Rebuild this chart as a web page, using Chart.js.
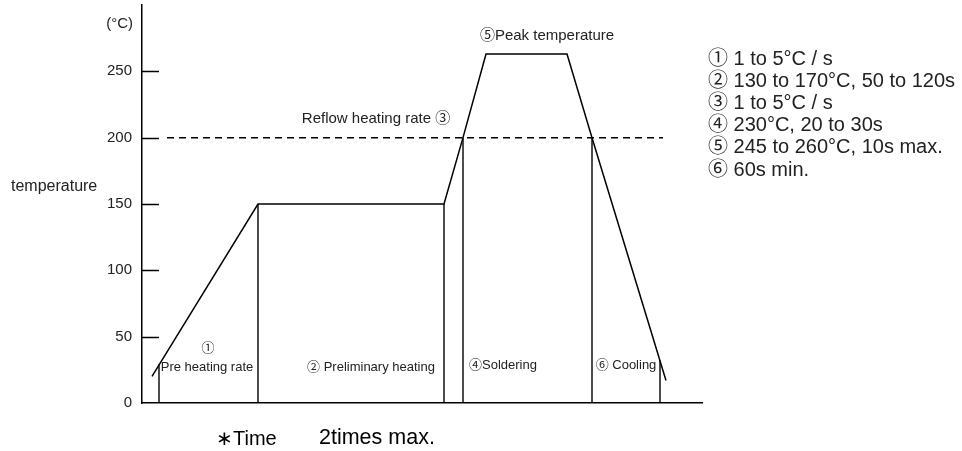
<!DOCTYPE html>
<html>
<head>
<meta charset="utf-8">
<script src="https://cdn.jsdelivr.net/npm/chart.js@4/dist/chart.umd.min.js"></script>
<style>
  html, body { margin: 0; padding: 0; background: #fff; }
  #wrap { width: 962px; height: 451px; }
</style>
</head>
<body>
<div id="wrap"><canvas id="reflowChart" width="962" height="451"></canvas></div>
<script>
var FONT = "'Liberation Sans', 'Noto Sans CJK JP', sans-serif";

// Reflow profile (time in arbitrary units, temperature in degC)
var profileTime = [10, 116, 302, 321, 344, 425, 450, 524];
var profileTemp = [20, 150, 150, 200, 263, 263, 200, 17];

// vertical zone separators: each goes from 0 up to the curve
var markerTime = [17, 116, 302, 321, 450, 518];
var markerTemp = [29, 150, 150, 200, 200, 32];

// dashed reference line at 200 degC
var refTemp = 200;
var refTime = [25, 521];

var yTicks = [0, 50, 100, 150, 200, 250];

// notes placed in data space
var zoneNotes = [
    { text: '\u2464Peak temperature', x: 405, y: 277, size: 15 },
    { text: 'Reflow heating rate \u2462', x: 234, y: 214, size: 15 },
    { text: '\u2460', x: 66, y: 41.5, size: 13 },
    { text: 'Pre heating rate', x: 65, y: 27, size: 13 },
    { text: '\u2461 Preliminary heating', x: 229, y: 27, size: 13 },
    { text: '\u2463Soldering', x: 361, y: 28.5, size: 13 },
    { text: '\u2465 Cooling', x: 484, y: 28.5, size: 13 }
];

var legendLines = [
    '\u2460 1 to 5\u00b0C / s',
    '\u2461 130 to 170\u00b0C, 50 to 120s',
    '\u2462 1 to 5\u00b0C / s',
    '\u2463 230\u00b0C, 20 to 30s',
    '\u2464 245 to 260\u00b0C, 10s max.',
    '\u2465 60s min.'
];

var profile = profileTime.map(function(t, i) { return { x: t, y: profileTemp[i] }; });

var datasets = [{
    data: profile,
    borderColor: '#000',
    borderWidth: 1.5,
    pointRadius: 0,
    tension: 0
}];

markerTime.forEach(function(t, i) {
    datasets.push({
        data: [{ x: t, y: 0 }, { x: t, y: markerTemp[i] }],
        borderColor: '#000',
        borderWidth: 1.4,
        pointRadius: 0
    });
});

datasets.push({
    data: [{ x: refTime[0], y: refTemp }, { x: refTime[1], y: refTemp }],
    borderColor: '#000',
    borderWidth: 1.5,
    borderDash: [7, 5],
    pointRadius: 0
});

var notesPlugin = {
    id: 'notes',
    afterDraw: function(chart) {
        var ctx = chart.ctx;
        var xs = chart.scales.x, ys = chart.scales.y;
        var left = chart.chartArea.left;
        ctx.save();
        ctx.strokeStyle = '#000';
        ctx.lineWidth = 1.5;
        // inward tick marks
        yTicks.forEach(function(v) {
            if (v === 0) return;
            var py = Math.round(ys.getPixelForValue(v)) + 0.5;
            ctx.beginPath();
            ctx.moveTo(left, py);
            ctx.lineTo(left + 17, py);
            ctx.stroke();
        });

        ctx.fillStyle = '#222';
        ctx.textBaseline = 'middle';
        ctx.textAlign = 'center';
        zoneNotes.forEach(function(n) {
            ctx.font = n.size + 'px ' + FONT;
            ctx.fillText(n.text, xs.getPixelForValue(n.x), ys.getPixelForValue(n.y));
        });

        // unit and axis titles
        ctx.textAlign = 'right';
        ctx.font = '15px ' + FONT;
        ctx.fillText('(\u00b0C)', 133, 24);
        ctx.textAlign = 'left';
        ctx.font = '16px ' + FONT;
        ctx.fillText('temperature', 11, 187);

        ctx.fillStyle = '#000';
        ctx.font = '20px ' + FONT;
        ctx.fillText('\u2217Time', 216, 439);
        ctx.font = '21.5px ' + FONT;
        ctx.fillText('2times max.', 319, 438);

        // right hand legend
        ctx.font = '20px ' + FONT;
        ctx.fillStyle = '#222';
        legendLines.forEach(function(s, i) {
            ctx.fillText(s, 708, 59 + i * 22.2);
        });
        ctx.restore();
    }
};

new Chart(document.getElementById('reflowChart'), {
    type: 'line',
    data: { datasets: datasets },
    plugins: [notesPlugin],
    options: {
        responsive: false,
        animation: false,
        layout: { padding: { left: 0, right: 260, top: 5, bottom: 48 } },
        plugins: { legend: { display: false }, tooltip: { enabled: false } },
        scales: {
            x: {
                type: 'linear',
                min: 0,
                max: 560,
                ticks: { display: false },
                grid: { drawOnChartArea: false, drawTicks: false },
                border: { display: true, color: '#000', width: 1.5 },
                afterFit: function(scale) { scale.height = 0; }
            },
            y: {
                min: 0,
                max: 300,
                afterBuildTicks: function(scale) {
                    scale.ticks = yTicks.map(function(v) { return { value: v }; });
                },
                ticks: {
                    color: '#222',
                    padding: 10,
                    font: { family: FONT, size: 15 }
                },
                grid: { drawOnChartArea: false, drawTicks: false },
                border: { display: true, color: '#000', width: 1.5 },
                afterFit: function(scale) {
                    scale.width = 142;
                    scale.paddingTop = 0;
                    scale.paddingBottom = 0;
                }
            }
        }
    }
});
</script>
</body>
</html>
